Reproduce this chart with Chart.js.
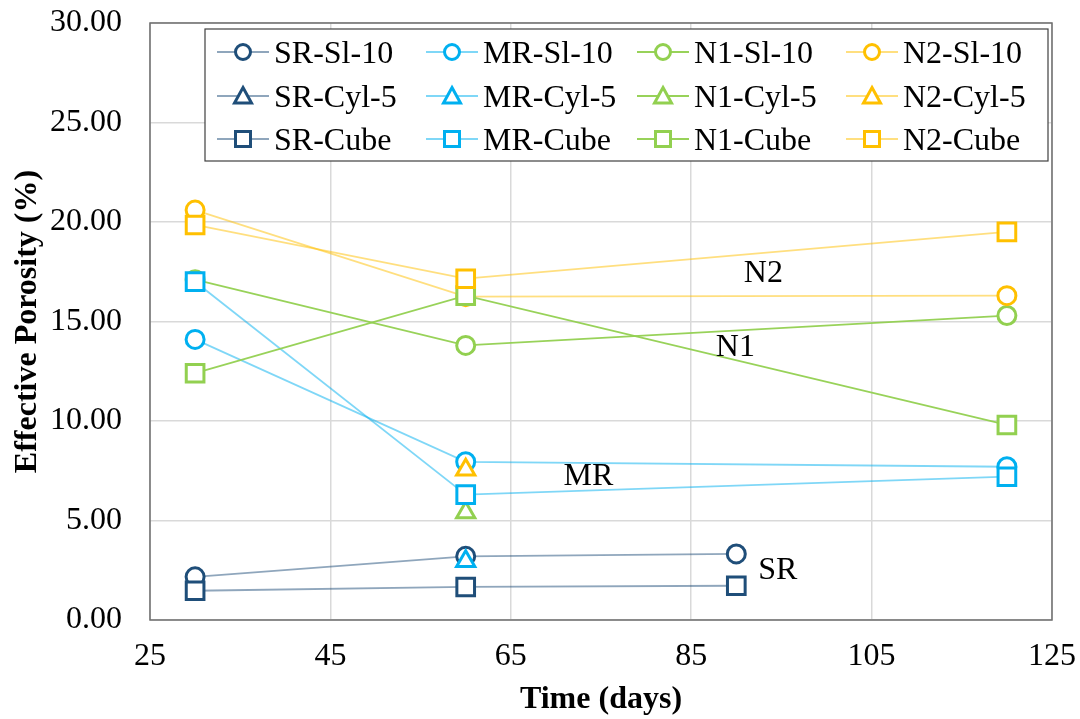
<!DOCTYPE html>
<html>
<head>
<meta charset="utf-8">
<script src="https://cdn.jsdelivr.net/npm/chart.js@4.4.1/dist/chart.umd.min.js"></script>
<style>
  html, body { margin: 0; padding: 0; background: #fff; }
  #wrap { width: 1080px; height: 719px; }
</style>
</head>
<body>
<div id="wrap"><canvas id="grafica" width="1080" height="719"></canvas></div>
<script>
"use strict";

// x values (days) per group of series
const daysSR = [30, 60, 90];
const daysOther = [30, 60, 120];
const daysCyl = [60];

// effective porosity (%)
const srSl10 = [2.17, 3.2, 3.32];
const srCyl5 = [];
const srCube = [1.47, 1.66, 1.72];
const mrSl10 = [14.1, 7.95, 7.7];
const mrCyl5 = [2.95];
const mrCube = [17.0, 6.3, 7.2];
const n1Sl10 = [17.1, 13.8, 15.3];
const n1Cyl5 = [5.4];
const n1Cube = [12.4, 16.3, 9.8];
const n2Sl10 = [20.6, 16.25, 16.3];
const n2Cyl5 = [7.55];
const n2Cube = [19.85, 17.15, 19.5];

const xTicks = [25, 45, 65, 85, 105, 125];
const yTicks = [0, 5, 10, 15, 20, 25, 30];

// text labels placed on the plot (x in days, y at text baseline)
const notes = [
  { text: "N2", x: 93.0, y: 16.96 },
  { text: "N1", x: 89.9, y: 13.29 },
  { text: "MR", x: 73.6, y: 6.79 },
  { text: "SR", x: 94.6, y: 2.06 }
];

const FONT = "'Liberation Serif', 'Times New Roman', serif";

const colores = {
  SR: { mark: "#1F4E79", line: "rgba(31,78,121,0.5)" },
  MR: { mark: "#00B0F0", line: "rgba(0,176,240,0.5)" },
  N1: { mark: "#92D050", line: "rgba(146,208,80,0.95)" },
  N2: { mark: "#FFC000", line: "rgba(255,192,0,0.5)" }
};

function pares(xs, ys) {
  return ys.map(function (v, i) { return { x: xs[i], y: v }; });
}

// legend order is row-wise: Sl-10 row, Cyl-5 row, Cube row
const series = [
  { label: "SR-Sl-10", g: "SR", style: "circle", data: pares(daysSR, srSl10) },
  { label: "MR-Sl-10", g: "MR", style: "circle", data: pares(daysOther, mrSl10) },
  { label: "N1-Sl-10", g: "N1", style: "circle", data: pares(daysOther, n1Sl10) },
  { label: "N2-Sl-10", g: "N2", style: "circle", data: pares(daysOther, n2Sl10) },
  { label: "SR-Cyl-5", g: "SR", style: "triangle", data: pares(daysCyl, srCyl5) },
  { label: "MR-Cyl-5", g: "MR", style: "triangle", data: pares(daysCyl, mrCyl5) },
  { label: "N1-Cyl-5", g: "N1", style: "triangle", data: pares(daysCyl, n1Cyl5) },
  { label: "N2-Cyl-5", g: "N2", style: "triangle", data: pares(daysCyl, n2Cyl5) },
  { label: "SR-Cube", g: "SR", style: "rect", data: pares(daysSR, srCube) },
  { label: "MR-Cube", g: "MR", style: "rect", data: pares(daysOther, mrCube) },
  { label: "N1-Cube", g: "N1", style: "rect", data: pares(daysOther, n1Cube) },
  { label: "N2-Cube", g: "N2", style: "rect", data: pares(daysOther, n2Cube) }
];

function radio(style) {
  if (style === "rect") return 12.5;
  if (style === "triangle") return 10.5;
  return 9;
}

const datasets = series.map(function (s, i) {
  return {
    label: s.label,
    data: s.data,
    order: series.length - i,
    borderColor: colores[s.g].line,
    borderWidth: 1.8,
    pointStyle: s.style,
    pointRadius: radio(s.style),
    pointHoverRadius: radio(s.style),
    pointBorderWidth: 3,
    pointBorderColor: colores[s.g].mark,
    pointBackgroundColor: "#ffffff",
    fill: false,
    tension: 0
  };
});

// marco del area de grafica
const marco = {
  id: "marco",
  beforeDatasetsDraw(chart) {
    const a = chart.chartArea, ctx = chart.ctx;
    ctx.save();
    ctx.strokeStyle = "#6e6e6e";
    ctx.lineWidth = 1.5;
    ctx.strokeRect(a.left, a.top, a.right - a.left, a.bottom - a.top);
    ctx.restore();
  }
};

function marcador(ctx, style, x, y, color) {
  ctx.save();
  ctx.strokeStyle = color;
  ctx.fillStyle = "#fff";
  ctx.lineWidth = 3;
  ctx.beginPath();
  if (style === "circle") {
    ctx.arc(x, y, 7.5, 0, Math.PI * 2);
  } else if (style === "triangle") {
    ctx.moveTo(x, y - 8.5);
    ctx.lineTo(x + 8.5, y + 7);
    ctx.lineTo(x - 8.5, y + 7);
    ctx.closePath();
  } else {
    ctx.rect(x - 7.5, y - 7.5, 15, 15);
  }
  ctx.fill();
  ctx.stroke();
  ctx.restore();
}

// leyenda propia en 4 columnas
const leyenda = {
  id: "leyenda",
  afterDraw(chart) {
    const ctx = chart.ctx;
    const colX = [243, 452, 663, 872];
    const rowY = [52, 96, 139];
    ctx.save();
    ctx.fillStyle = "#fff";
    ctx.fillRect(205, 29, 843, 132);
    ctx.strokeStyle = "#404040";
    ctx.lineWidth = 1.2;
    ctx.strokeRect(205, 29, 843, 132);
    series.forEach(function (s, i) {
      const cx = colX[i % 4], cy = rowY[Math.floor(i / 4)];
      ctx.strokeStyle = colores[s.g].line;
      ctx.lineWidth = 2;
      ctx.beginPath();
      ctx.moveTo(cx - 26, cy);
      ctx.lineTo(cx + 26, cy);
      ctx.stroke();
      marcador(ctx, s.style, cx, cy, colores[s.g].mark);
      ctx.fillStyle = "#000";
      ctx.font = "32px " + FONT;
      ctx.textBaseline = "alphabetic";
      ctx.textAlign = "left";
      ctx.fillText(s.label, cx + 31, cy + 10.5);
    });
    ctx.restore();
  }
};

const etiquetas = {
  id: "etiquetas",
  afterDatasetsDraw(chart) {
    const ctx = chart.ctx, sx = chart.scales.x, sy = chart.scales.y;
    ctx.save();
    ctx.fillStyle = "#000";
    ctx.font = "32px " + FONT;
    ctx.textAlign = "center";
    ctx.textBaseline = "alphabetic";
    notes.forEach(function (n) {
      ctx.fillText(n.text, sx.getPixelForValue(n.x), sy.getPixelForValue(n.y));
    });
    ctx.restore();
  }
};

const ctx = document.getElementById("grafica");
const chart = new Chart(ctx, {
  type: "line",
  data: { datasets: datasets },
  options: {
    responsive: false,
    animation: false,
    layout: { padding: { top: 23, right: 28, left: 0, bottom: 0 } },
    plugins: { legend: { display: false }, tooltip: { enabled: false } },
    scales: {
      x: {
        type: "linear",
        min: 25,
        max: 125,
        afterBuildTicks: function (s) { s.ticks = xTicks.map(function (v) { return { value: v }; }); },
        afterFit: function (s) { s.height = 99; s.paddingLeft = 0; s.paddingRight = 0; },
        grid: { color: "#d9d9d9", lineWidth: 1.5, drawTicks: false },
        border: { display: false },
        ticks: { color: "#000", padding: 17, font: { family: FONT, size: 32 } },
        title: { display: true, text: "Time (days)", color: "#000", padding: { top: 4, bottom: 0 }, font: { family: FONT, size: 32, weight: "bold" } }
      },
      y: {
        min: 0,
        max: 30,
        afterBuildTicks: function (s) { s.ticks = yTicks.map(function (v) { return { value: v }; }); },
        afterFit: function (s) { s.width = 150; s.paddingTop = 0; s.paddingBottom = 0; },
        grid: { color: "#d9d9d9", lineWidth: 1.5, drawTicks: false },
        border: { display: false },
        ticks: {
          color: "#000", padding: 28, font: { family: FONT, size: 32 },
          callback: function (v) { return Number(v).toFixed(2); }
        },
        title: { display: true, text: "Effective Porosity (%)", color: "#000", padding: { top: 9, bottom: 0 }, font: { family: FONT, size: 32, weight: "bold" } }
      }
    }
  },
  plugins: [marco, etiquetas, leyenda]
});
</script>
</body>
</html>
